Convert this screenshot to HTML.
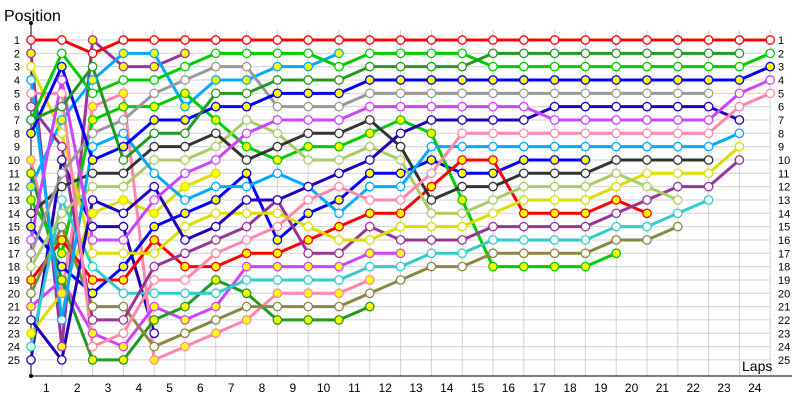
<!DOCTYPE html>
<html><head><meta charset="utf-8"><style>
body{margin:0;background:#fff;width:800px;height:400px;overflow:hidden}
svg{display:block}
text{font-family:"Liberation Sans","DejaVu Sans",sans-serif}
</style></head><body>
<svg id="s" width="800" height="400" xmlns="http://www.w3.org/2000/svg"></svg>
<script>
const s=document.getElementById('s');
const X=i=>31+30.8*i, Y=p=>40+(p-1)*13.33;
let h='';
// grid
for(let p=1;p<=25;p++){h+=`<line x1="31" x2="770" y1="${Y(p)}" y2="${Y(p)}" stroke="#d0d0d0" stroke-width="1"/>`;
 h+=`<text x="20" y="${Y(p)+4}" font-size="11" text-anchor="end">${p}</text>`;
 h+=`<text x="778" y="${Y(p)+4}" font-size="11">${p}</text>`;}
for(let i=1;i<=24;i++){h+=`<line x1="${X(i)}" x2="${X(i)}" y1="30" y2="376" stroke="#d0d0d0" stroke-width="1"/>`;}
for(let k=1;k<=24;k++){h+=`<text x="${X(k-0.5)}" y="392" font-size="12" text-anchor="middle">${k}</text>`;}
h+=`<line x1="31" y1="22" x2="31" y2="376" stroke="#000" stroke-width="1"/><line x1="31" y1="376" x2="792" y2="376" stroke="#000"/>`;
h+=`<circle cx="31" cy="23" r="2"/><circle cx="31" cy="376" r="2"/>`;
h+=`<text x="4" y="21" font-size="16">Position</text><text x="742" y="371" font-size="14">Laps</text>`;
const S=[
['#ff0000',0,[1,1,2,1,1,1,1,1,1,1,1,1,1,1,1,1,1,1,1,1,1,1,1,1,1]],
['#229922',0,[7,6,3,10,8,8,5,5,4,4,4,3,3,3,3,2,2,2,2,2,2,2,2,2]],
['#00cc00',0,[7,2,5,4,4,3,2,2,2,2,3,2,2,2,2,3,3,3,3,3,3,3,3,3,2]],
['#0000ff',1,[8,3,10,9,7,7,6,6,5,5,5,4,4,4,4,4,4,4,4,4,4,4,4,4,3]],
['#999999',0,[17,11,8,7,5,4,3,3,6,6,6,5,5,5,5,5,5,5,5,5,5,5,5]],
['#cc44ff',0,[16,4,16,16,13,11,10,8,7,7,7,6,6,6,6,6,6,7,7,7,7,7,7,5,4]],
['#ff88aa',0,[5,5,24,23,19,19,17,16,15,13,12,13,13,11,8,8,8,8,8,8,8,8,8,6,5]],
['#2200bb',0,[22,25,13,14,12,16,15,13,13,12,11,10,8,7,7,7,7,6,6,6,6,6,6,7]],
['#00aaff',0,[4,22,9,8,11,13,12,12,11,12,14,12,12,9,9,9,9,9,9,9,9,9,9,8]],
['#333333',0,[14,12,11,11,9,9,8,10,9,8,8,7,9,13,12,12,11,11,11,10,10,10,10]],
['#aacc66',0,[18,14,12,12,10,10,9,7,8,10,10,9,10,14,14,13,12,12,12,11,12,13]],
['#dddd00',0,[3,8,17,17,17,15,14,14,14,15,16,16,15,15,15,14,13,13,13,12,11,11,11,9]],
['#993399',0,[6,9,22,22,18,17,16,15,13,17,17,15,16,16,16,15,15,15,15,14,13,12,12,10]],
['#33cccc',0,[24,13,18,20,20,20,20,19,19,19,19,18,18,17,17,16,16,16,16,15,15,14,13]],
['#888844',0,[20,15,21,21,24,23,22,21,21,21,21,20,19,18,18,17,17,17,17,16,16,15]],
['#ff0000',1,[19,16,19,19,16,18,18,17,17,16,15,14,14,12,10,10,14,14,14,13,14]],
['#00cc00',1,[13,17,7,6,6,5,7,9,10,9,9,8,7,8,13,18,18,18,18,17]],
['#229922',1,[11,19,25,25,22,21,19,20,22,22,22,21]],
['#0000ff',1,[15,18,20,18,15,14,13,11,16,14,13,11,11,10,11,11,10,10,10]],
['#cc44ff',1,[21,19,23,24,21,22,21,18,18,18,18,17,17]],
['#ff88aa',1,[10,20,6,5,25,24,23,22,20,20,20,19]],
['#00aaff',1,[12,7,4,2,2,6,4,4,3,3,2]],
['#dddd00',1,[23,20,14,13,14,12,11]],
['#2200bb',0,[25,10,15,15,23]],
['#993399',1,[2,24,1,3,3,2]]
];
// draw later series first so top ones overlay
for(const [c,f,d] of S.slice().reverse()){
 h+=`<polyline fill="none" stroke="${c}" stroke-width="3" stroke-linejoin="round" points="${d.map((p,i)=>X(i)+','+Y(p)).join(' ')}"/>`;
}
for(const [c,f,d] of S.slice().reverse()){
 d.forEach((p,i)=>{h+=`<circle cx="${X(i)}" cy="${Y(p)}" r="4.2" fill="${f?'#ffff00':'#fff'}" stroke="${c}" stroke-width="1.3"/>`;});
}
s.innerHTML=h;
</script>
</body></html>
